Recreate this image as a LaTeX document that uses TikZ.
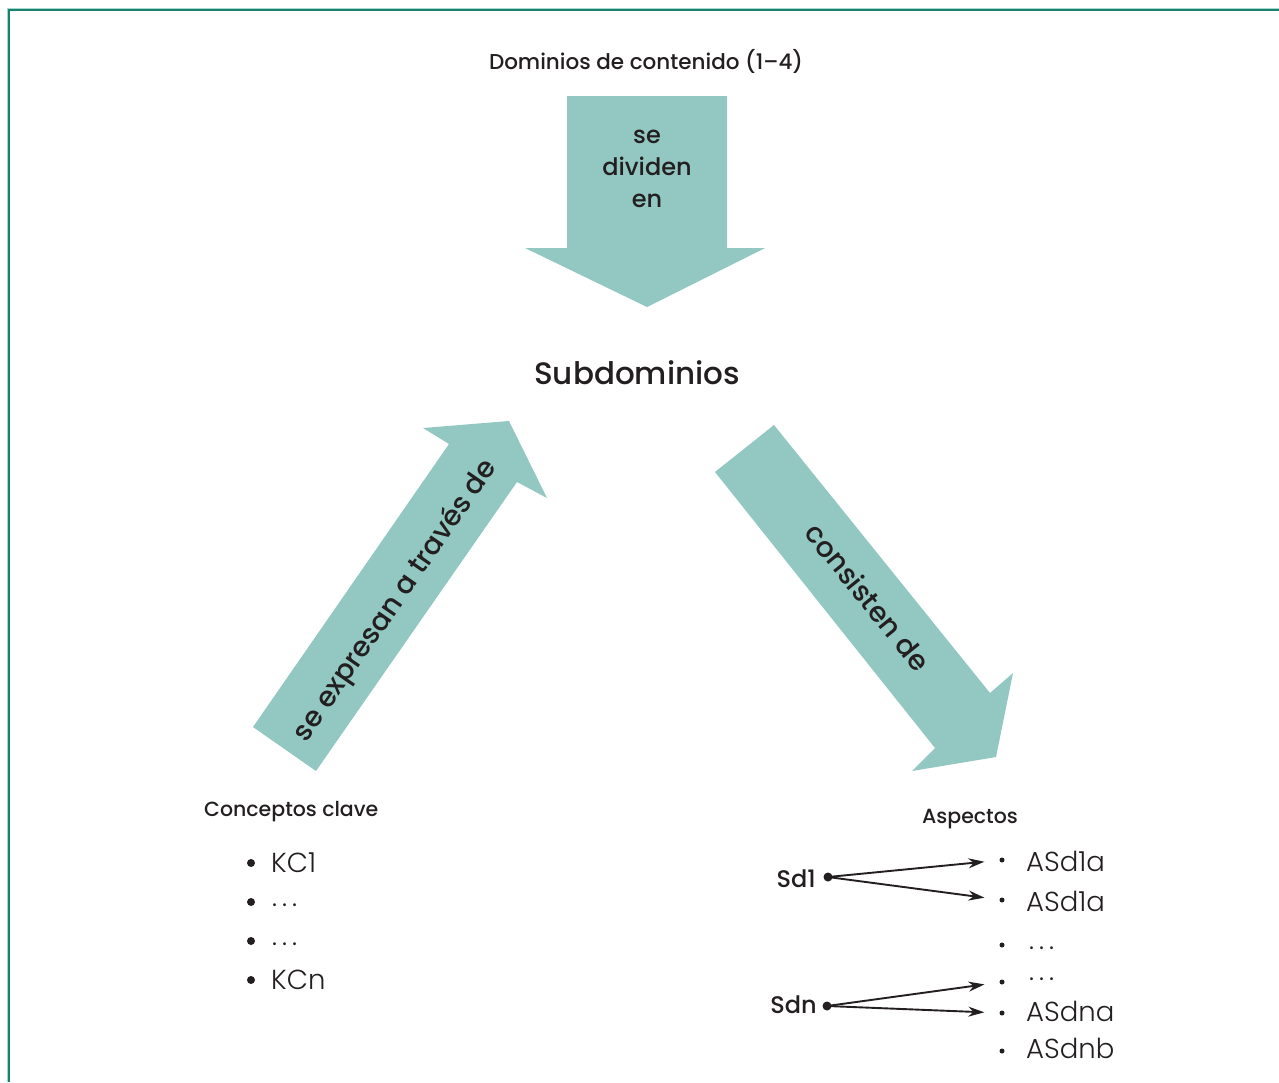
\documentclass[tikz,border=0pt]{standalone}
\usepackage{fontspec}
\setmainfont{Poppins}
\newfontfamily\lightfont{Poppins Light}
\newfontfamily\mediumfont{Poppins Medium}
\usetikzlibrary{arrows.meta}

\definecolor{frameline}{HTML}{17826E}
\definecolor{framelight}{HTML}{A6D8D0}
\definecolor{arrowfill}{HTML}{92C7C2}
\definecolor{ink}{HTML}{231F20}

\newcommand{\dotsrow}{.\kern5pt.\kern5pt.}

\begin{document}
\begin{tikzpicture}[x=1pt, y=-1pt,
  flow/.style={fill=arrowfill, draw=none},
  flowtext/.style={text=ink, font=\mediumfont\fontsize{24}{32}\selectfont, align=center, inner sep=0pt},
  heading/.style={text=ink, font=\mediumfont\fontsize{20.5}{24}\selectfont, inner sep=0pt},
  item/.style={text=ink, anchor=west, font=\lightfont\fontsize{27.5}{30}\selectfont, inner sep=0pt},
  bigdot/.style={circle, fill=ink, inner sep=0pt, minimum size=8pt},
  smalldot/.style={circle, fill=ink, inner sep=0pt, minimum size=5pt},
  link/.style={-{Stealth[length=16pt, width=10pt]}, line width=1.9pt, ink, shorten >=15pt},
]
\useasboundingbox (0,0) rectangle (1279,1082);

% Frame
\draw[framelight, line width=3pt] (1279,9) -- (8,9) -- (8,1082);
\draw[frameline, line width=2pt] (1279,9.5) -- (8.5,9.5) -- (8.5,1082);

% Big arrows
\fill[flow] (567,96) -- (727,96) -- (727,248) -- (765,248) -- (647,307)
  -- (525,248) -- (567,248) -- cycle;
\fill[flow] (253,727) -- (449,444) -- (423,428) -- (509,421) -- (547,498)
  -- (517,482) -- (316,771) -- cycle;
\fill[flow] (715,472) -- (774,425) -- (990,693) -- (1013,673) -- (996,757)
  -- (912,771) -- (935,748) -- cycle;

% Labels
\node[heading, font=\mediumfont\fontsize{21.5}{24}\selectfont] (domains) at (646,61) {Dominios de contenido (1\textendash4)};
\node[text=ink, font=\mediumfont\fontsize{31}{36}\selectfont, inner sep=0pt] (subdomains) at (637,373) {Subdominios};
\node[flowtext] (divide) at (647,169) {se\\dividen\\en};
\node[flowtext, font=\mediumfont\fontsize{28}{32}\selectfont, rotate=55.3] (express) at (396,601) {se expresan a través de};
\node[flowtext, font=\mediumfont\fontsize{28}{32}\selectfont, rotate=-51] (consist) at (868,597) {consisten de};

% Key concepts
\node[heading, anchor=west] (concepts) at (204,812) {Conceptos clave};
\node[bigdot] (k1) at (251,863) {};
\node[bigdot] (k2) at (251,902) {};
\node[bigdot] (k3) at (251,941) {};
\node[bigdot] (k4) at (251,980) {};
\node[item] (kc1) at (271,863) {KC1};
\node[item] (kc2) at (272,905) {\dotsrow};
\node[item] (kc3) at (272,944) {\dotsrow};
\node[item] (kc4) at (271,980) {KCn};

% Aspects
\node[heading] (aspects) at (970,819) {Aspectos};
\node[smalldot] (b1) at (1002,860) {};
\node[smalldot] (b2) at (1002,900) {};
\node[smalldot] (b3) at (1002,945) {};
\node[smalldot] (b4) at (1002,982) {};
\node[smalldot] (b5) at (1002,1013) {};
\node[smalldot] (b6) at (1002,1051) {};
\node[item] (as1) at (1026,861) {ASd1a};
\node[item] (as2) at (1026,901) {ASd1a};
\node[item] (as3) at (1029,948) {\dotsrow};
\node[item] (as4) at (1029,979) {\dotsrow};
\node[item] (as5) at (1026,1011) {ASdna};
\node[item] (as6) at (1026,1048) {ASdnb};

\node[heading, anchor=east, font=\mediumfont\fontsize{24}{28}\selectfont] (sd1) at (816,879) {Sd1};
\node[heading, anchor=east, font=\mediumfont\fontsize{24}{28}\selectfont] (sdn) at (817,1005) {Sdn};
\node[bigdot, minimum size=9pt] (sd1dot) at (828,877) {};
\node[bigdot, minimum size=9pt] (sdndot) at (827,1006) {};

\draw[link] (sd1dot.center) -- (b1);
\draw[link] (sd1dot.center) -- (b2);
\draw[link] (sdndot.center) -- (b4);
\draw[link] (sdndot.center) -- (b5);
\end{tikzpicture}
\end{document}
